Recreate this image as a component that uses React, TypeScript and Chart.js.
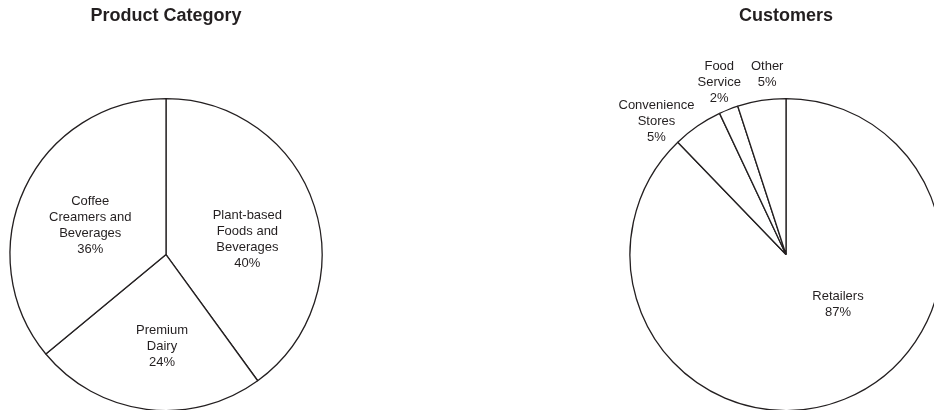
import React, { useEffect, useRef } from "react";
import { Chart, registerables } from "chart.js";

Chart.register(...registerables);

// ---- Data ----
const productTitle = "Product Category";
const productCategories = [
  ["Plant-based", "Foods and", "Beverages"],
  ["Premium", "Dairy"],
  ["Coffee", "Creamers and", "Beverages"],
];
const productValues = [40, 24, 36];
const productPctLabels = ["40%", "24%", "36%"];

const customerTitle = "Customers";
const customerCategories = [
  ["Retailers"],
  ["Convenience", "Stores"],
  ["Food", "Service"],
  ["Other"],
];
const customerValues = [87.8, 5.2, 2.0, 5.0];
const customerPctLabels = ["87%", "5%", "2%", "5%"];

// label placement relative to each slice: [angle offset from mid (deg), radius fraction]
const productLabelPlacement = [
  [7.2, 0.531],
  [-4.7, 0.59],
  [-4.2, 0.52],
];
const customerLabelPlacement = [
  [-24, 0.4635],
  [-9.7, 1.19],
  [0.4, 1.183],
  [3.05, 1.163],
];

const INK = "#231f20";
const FONT = "'Liberation Sans', Arial, Helvetica, sans-serif";

const sliceLabelPlugin = {
  id: "sliceLabels",
  afterDatasetsDraw(chart: any, _args: any, opts: any) {
    const { ctx } = chart;
    const meta = chart.getDatasetMeta(0);
    const cats: string[][] = opts.categories;
    const pcts: string[] = opts.pcts;
    const place: number[][] = opts.placement;
    ctx.save();
    ctx.fillStyle = INK;
    ctx.font = `13px ${FONT}`;
    ctx.textAlign = "center";
    ctx.textBaseline = "middle";
    meta.data.forEach((arc: any, i: number) => {
      const p = arc.getProps(["x", "y", "startAngle", "endAngle", "outerRadius"], true);
      const mid = (p.startAngle + p.endAngle) / 2 + (place[i][0] * Math.PI) / 180;
      const r = p.outerRadius * place[i][1];
      const cx = p.x + Math.cos(mid) * r;
      const cy = p.y + Math.sin(mid) * r;
      const lines = [...cats[i], pcts[i]];
      const lh = 16;
      lines.forEach((t, k) => {
        ctx.fillText(t, cx, cy - ((lines.length - 1) * lh) / 2 + k * lh);
      });
    });
    ctx.restore();
  },
};

function PieCanvas(props: {
  title: string;
  values: number[];
  categories: string[][];
  pcts: string[];
  placement: number[][];
  left: number;
  width: number;
}) {
  const ref = useRef<HTMLCanvasElement | null>(null);
  useEffect(() => {
    if (!ref.current) return;
    const chart = new Chart(ref.current, {
      type: "pie",
      data: {
        labels: props.categories.map((c) => c.join(" ")),
        datasets: [
          {
            data: props.values,
            backgroundColor: "#ffffff",
            borderColor: INK,
            borderWidth: 1.3,
            borderAlign: "center",
          } as any,
        ],
      },
      options: {
        responsive: false,
        animation: false,
        radius: 156,
        layout: { padding: 0 },
        plugins: {
          legend: { display: false },
          tooltip: { enabled: false },
          title: {
            display: true,
            text: props.title,
            color: INK,
            font: { family: FONT, size: 18, weight: "bold", lineHeight: 1.2 },
            padding: { top: 5.5, bottom: 72 },
          },
          sliceLabels: {
            categories: props.categories,
            pcts: props.pcts,
            placement: props.placement,
          },
        } as any,
      } as any,
      plugins: [sliceLabelPlugin],
    });
    return () => chart.destroy();
  }, []);
  return (
    <canvas
      ref={ref}
      width={props.width}
      height={410}
      style={{ position: "absolute", left: props.left, top: 0, width: props.width, height: 410 }}
    />
  );
}

export default function App() {
  return (
    <div
      style={{
        position: "fixed",
        left: 0,
        top: 0,
        width: 934,
        height: 410,
        overflow: "hidden",
        background: "#ffffff",
      }}
    >
      <PieCanvas
        title={productTitle}
        values={productValues}
        categories={productCategories}
        pcts={productPctLabels}
        placement={productLabelPlacement}
        left={0}
        width={332}
      />
      <PieCanvas
        title={customerTitle}
        values={customerValues}
        categories={customerCategories}
        pcts={customerPctLabels}
        placement={customerLabelPlacement}
        left={560}
        width={452}
      />
    </div>
  );
}
